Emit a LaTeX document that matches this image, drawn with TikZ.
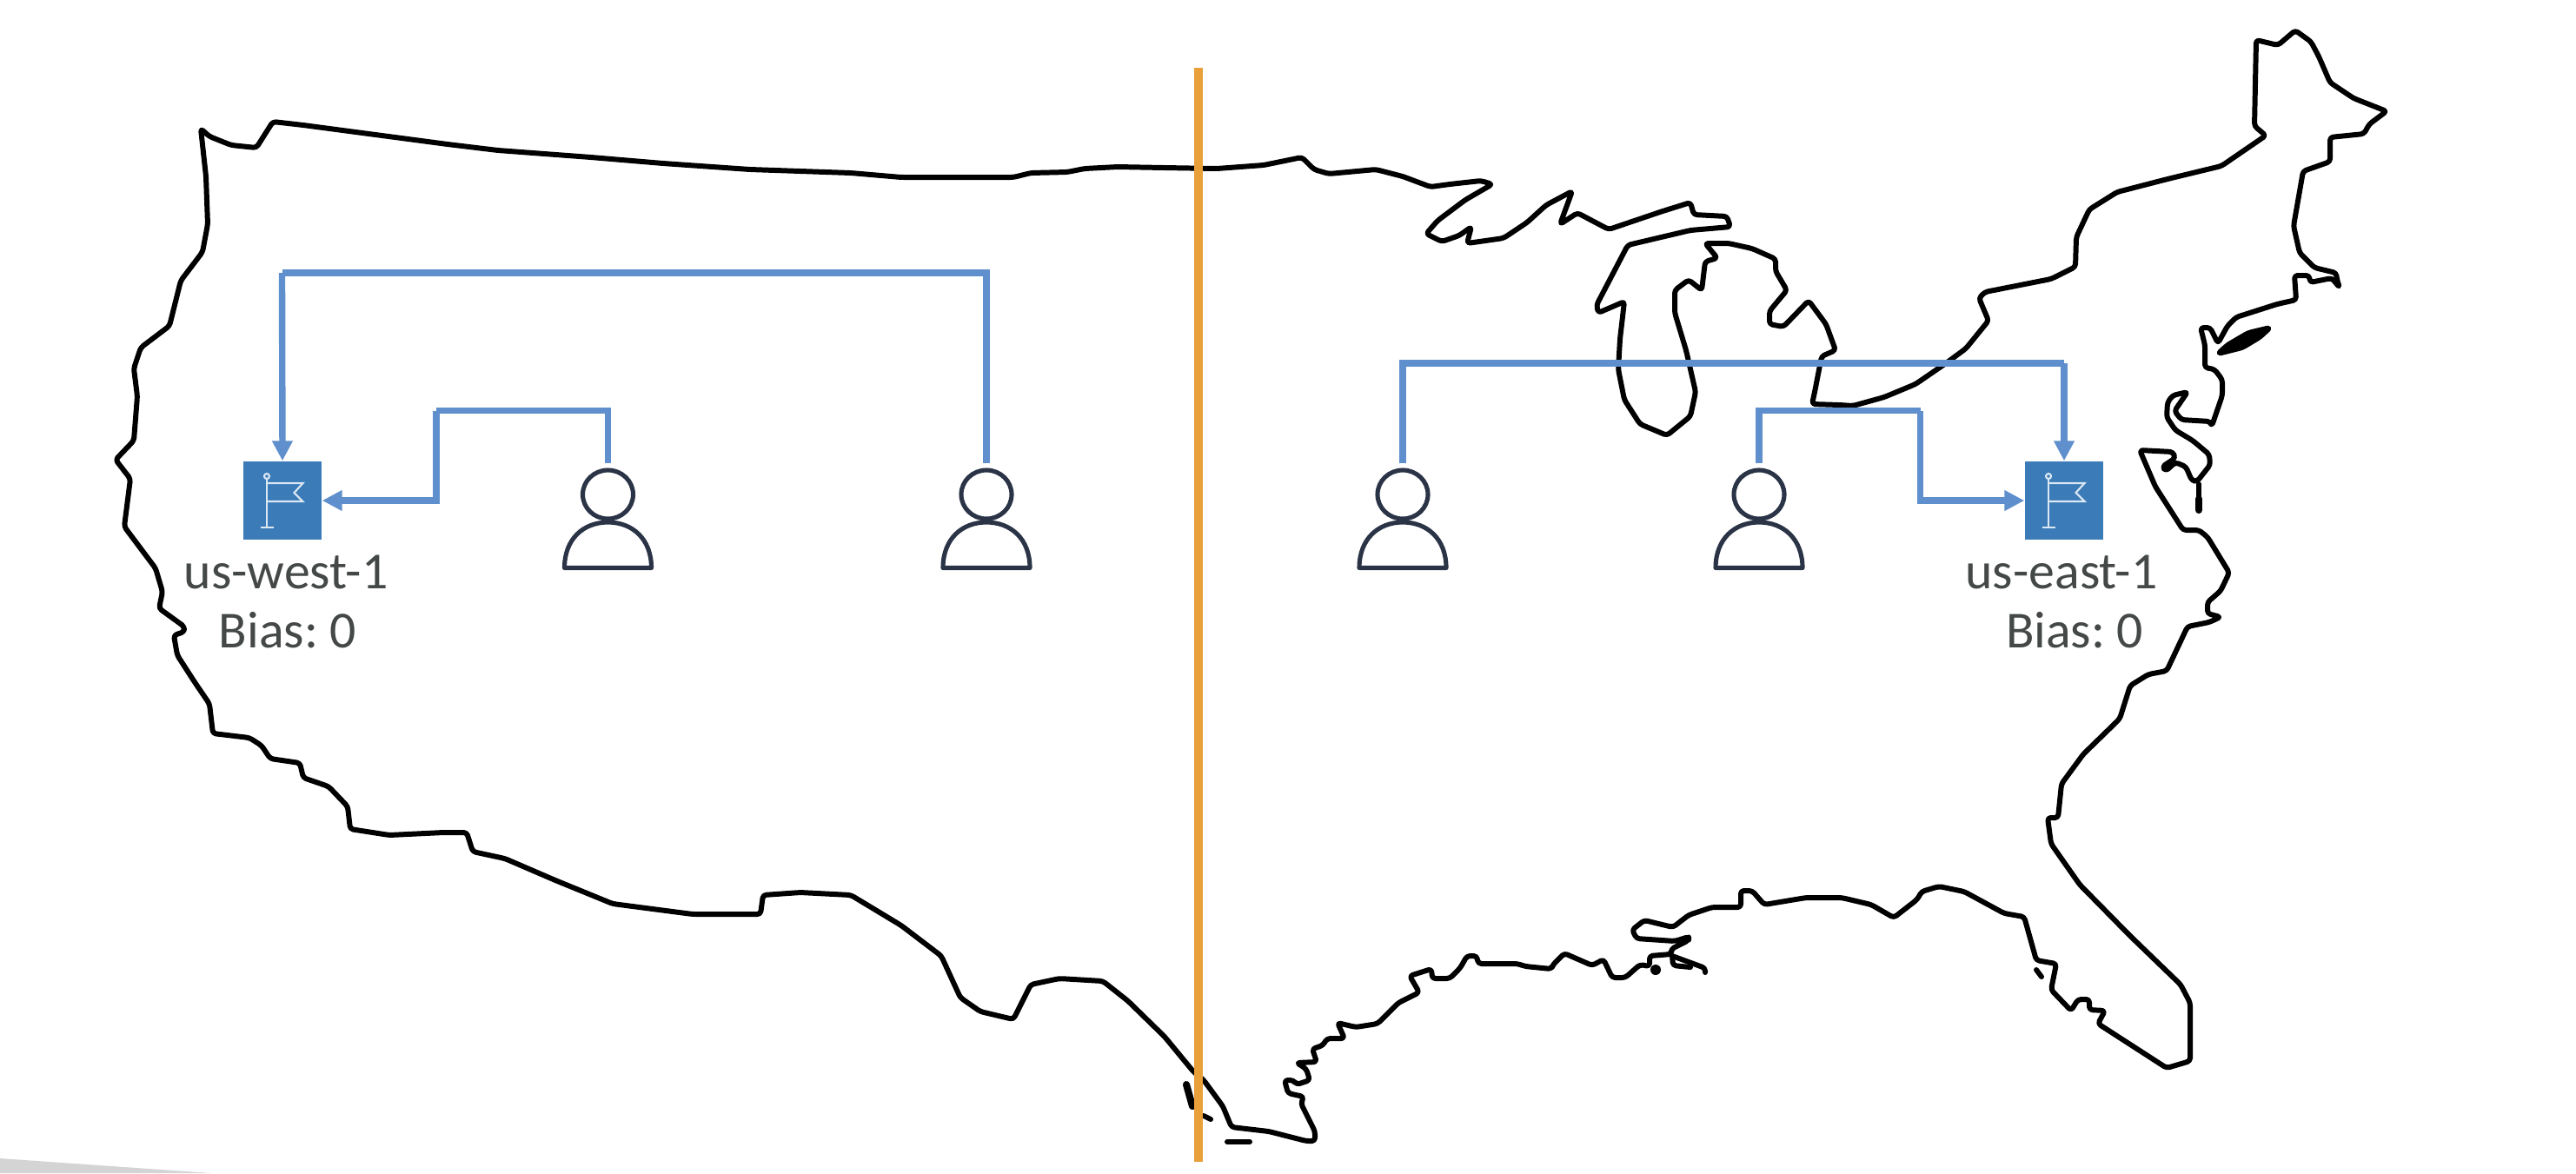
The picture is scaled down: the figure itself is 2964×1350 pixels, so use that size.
\documentclass[tikz,border=0pt]{standalone}
\usepackage{amsmath,amssymb,color,tikz}
\usepackage{fontspec}
\setmainfont{Carlito}
\usetikzlibrary{arrows.meta}

\definecolor{linkblue}{HTML}{5F8FCC}
\definecolor{flagblue}{HTML}{3A7BB8}
\definecolor{splitorange}{HTML}{E9A03B}
\definecolor{userdark}{HTML}{2A3446}
\definecolor{labelgrey}{HTML}{444948}
\definecolor{flagwhite}{HTML}{DCE8F3}

\tikzset{
  coast/.style={draw=black, line width=1.7pt, line join=round, line cap=round,
    rounded corners=1pt},
  link/.style={draw=linkblue, line width=2.1pt, -{Triangle[length=0.23cm,width=0.225cm]}},
  linkplain/.style={draw=linkblue, line width=2.1pt},
  split/.style={draw=splitorange, line width=2.9pt},
  userbox/.style={minimum width=1.05cm, minimum height=1.22cm, inner sep=0pt},
  flagbox/.style={fill=flagblue, minimum width=0.9cm, minimum height=0.9cm, inner sep=0pt},
  regionlabel/.style={anchor=base, text=labelgrey, inner sep=0pt,
    font=\fontsize{17}{20}\selectfont\frenchspacing},
  usericon/.pic={
    \draw [userdark, line width=1.45pt, line join=round, fill=white] (0,-26)
      ellipse [x radius=29, y radius=28];
    \draw [userdark, line width=1.45pt, line join=round] (-50,58.5)
      .. controls (-50,25) and (-28,6) .. (0,6)
      .. controls (28,6) and (50,25) .. (50,58.5) -- cycle;
  },
  flagicon/.pic={
    \draw [flagwhite, line width=0.6pt] (-18,-25) -- (-18,31);
    \draw [flagwhite, line width=0.6pt] (-25.5,31) -- (-10.5,31);
    \draw [flagwhite, line width=0.6pt] (-18,-28) circle [radius=3];
    \draw [flagwhite, line width=0.6pt] (-18,-20) -- (23.5,-20)
      -- (13.5,-9) -- (23.5,1) -- (-18,1);
  }
}

\begin{document}
\begin{tikzpicture}[x=0.01cm, y=-0.01cm]
  \useasboundingbox (0,0) rectangle (2964,1350);
  \fill [white] (0,0) rectangle (2964,1350);
  \fill [black!17] (0,1333) -- (243,1350) -- (0,1350) -- cycle;

  % mainland outline
  \draw [coast] (231,148) -- (241,157) -- (266,167) -- (295,170) -- (314,140)
    -- (349,144) -- (432,155) -- (515,166) -- (573,173) -- (680,181)
    -- (763,188) -- (863,195) -- (921,197) -- (979,199) -- (1037,204)
    -- (1166,204) -- (1186,199) -- (1228,198) -- (1248,194) -- (1286,192)
    -- (1340,193) -- (1400,194) -- (1454,190) -- (1498,181) -- (1512,195)
    -- (1529,200) -- (1583,195) -- (1614,203) -- (1646,215) -- (1668,212)
    -- (1704,208) -- (1717,212) -- (1686,230) -- (1654,254) -- (1641,269)
    -- (1659,278) -- (1679,271) -- (1693,261) -- (1688,280) -- (1730,274)
    -- (1757,256) -- (1779,236) -- (1809,220) -- (1795,258) -- (1815,245)
    -- (1851,264) -- (1913,243) -- (1945,233) -- (1949,247) -- (1987,249)
    -- (1991,261) -- (1945,265) -- (1873,282) -- (1837,351) -- (1839,360)
    -- (1869,347) -- (1864,390) -- (1862,425) -- (1869,460) -- (1887,488)
    -- (1918,501) -- (1945,479) -- (1951,451) -- (1940,403) -- (1927,360)
    -- (1927,334) -- (1943,322) -- (1958,334) -- (1962,301) -- (1976,297)
    -- (1962,280) -- (1989,280) -- (2016,286) -- (2043,298) -- (2043,312)
    -- (2056,334) -- (2036,358) -- (2036,373) -- (2052,376) -- (2081,346)
    -- (2101,373) -- (2112,403) -- (2096,410) -- (2088,451) -- (2085,465)
    -- (2117,466) -- (2132,467) -- (2168,457) -- (2204,442) -- (2239,418)
    -- (2262,401) -- (2288,369) -- (2277,343) -- (2284,336) -- (2360,321)
    -- (2388,307) -- (2389,273) -- (2404,241) -- (2436,221) -- (2494,206)
    -- (2556,191) -- (2607,156) -- (2594,145) -- (2596,46) -- (2621,52)
    -- (2641,35) -- (2659,48) -- (2668,65) -- (2681,95) -- (2708,113)
    -- (2746,128) -- (2726,143) -- (2720,154) -- (2681,158) -- (2681,186)
    -- (2650,197) -- (2639,260) -- (2646,291) -- (2663,308) -- (2688,314)
    -- (2689,322) -- (2692,331) -- (2683,320) -- (2658,325) -- (2657,317)
    -- (2640,317) -- (2642,345) -- (2620,350) -- (2573,365) -- (2563,375)
    -- (2552,395) -- (2543,377) -- (2532,377) -- (2537,397) -- (2537,423)
    -- (2548,425) -- (2557,437) -- (2557,455) -- (2545,490) -- (2543,485)
    -- (2510,483) -- (2502,473) -- (2517,451) -- (2500,455) -- (2494,463)
    -- (2493,480) -- (2503,495) -- (2523,507) -- (2542,523) -- (2543,535)
    -- (2528,554) -- (2522,553) -- (2515,537) -- (2503,532) -- (2492,542)
    -- (2488,537) -- (2503,527) -- (2500,520) -- (2462,518) -- (2480,560)
    -- (2512,610) -- (2530,610) -- (2540,618) -- (2565,659) -- (2555,680)
    -- (2540,693) -- (2540,706) -- (2555,710) -- (2542,716) -- (2517,721)
    -- (2493,772) -- (2472,776) -- (2451,789) -- (2439,827) -- (2397,868)
    -- (2372,902) -- (2368,941) -- (2356,941) -- (2360,971) -- (2393,1018)
    -- (2451,1077) -- (2509,1133) -- (2520,1154) -- (2520,1221) -- (2493,1229)
    -- (2414,1178) -- (2422,1163) -- (2404,1162) -- (2404,1150) -- (2391,1150)
    -- (2383,1163) -- (2360,1139) -- (2366,1109) -- (2343,1105) -- (2329,1055)
    -- (2306,1051) -- (2260,1026) -- (2231,1020) -- (2211,1026) -- (2206,1035)
    -- (2179,1056) -- (2153,1041) -- (2119,1033) -- (2078,1033) -- (2030,1041)
    -- (2016,1025) -- (2003,1025) -- (2003,1044) -- (1970,1044) -- (1943,1053)
    -- (1925,1067) -- (1892,1059) -- (1878,1070) -- (1883,1080) -- (1927,1083)
    -- (1943,1078) -- (1943,1082) -- (1923,1092) -- (1923,1098) -- (1898,1100)
    -- (1898,1112) -- (1887,1110) -- (1870,1125) -- (1855,1125) -- (1845,1104)
    -- (1832,1111) -- (1800,1097) -- (1787,1110) -- (1785,1115) -- (1755,1112)
    -- (1746,1109) -- (1701,1109) -- (1699,1100) -- (1688,1100) -- (1680,1114)
    -- (1668,1126) -- (1648,1126) -- (1647,1115) -- (1622,1123) -- (1633,1142)
    -- (1609,1154) -- (1585,1178) -- (1560,1182) -- (1539,1177) -- (1547,1195)
    -- (1527,1195) -- (1522,1203) -- (1510,1207) -- (1515,1222) -- (1492,1223)
    -- (1503,1230) -- (1507,1243) -- (1492,1248) -- (1488,1243) -- (1478,1243)
    -- (1482,1258) -- (1500,1262) -- (1497,1270) -- (1513,1302) -- (1513,1313)
    -- (1503,1313) -- (1460,1302) -- (1417,1297) -- (1407,1273) -- (1385,1243)
    -- (1373,1233) -- (1340,1193) -- (1298,1152) -- (1269,1129) -- (1219,1126)
    -- (1186,1133) -- (1166,1173) -- (1128,1164) -- (1105,1148) -- (1083,1100)
    -- (1037,1065) -- (979,1030) -- (921,1027) -- (878,1030) -- (875,1052)
    -- (797,1052) -- (705,1040) -- (639,1013) -- (581,988) -- (544,980)
    -- (537,958) -- (510,958) -- (448,961) -- (403,954) -- (400,928)
    -- (378,905) -- (349,895) -- (345,878) -- (311,873) -- (301,858)
    -- (287,849) -- (245,844) -- (241,810) -- (224,785) -- (204,754)
    -- (200,731) -- (212,727) -- (212,721) -- (183,700) -- (187,681)
    -- (179,654) -- (158,626) -- (143,606) -- (150,551) -- (133,529)
    -- (154,507) -- (158,456) -- (154,424) -- (162,400) -- (195,375)
    -- (208,323) -- (233,290) -- (239,258) -- (237,203) -- cycle;

  % islands and small marks
  \draw [coast, fill=black] (2552,407) -- (2563,397) -- (2587,383) -- (2612,377)
    -- (2600,388) -- (2580,400) -- cycle;
  \draw [coast] (2530,557) -- (2530,574);
  \draw [coast, line width=2.3pt] (2530,574) -- (2530,587);
  \draw [coast, line width=2.3pt] (1365,1248) -- (1372,1273);
  \draw [coast] (1385,1284) -- (1393,1288);
  \draw [coast] (1412,1314) -- (1438,1314);
  \draw [coast] (2343,1116) -- (2349,1124);
  \fill [black] (1905,1116) circle [radius=6];
  \draw [coast] (1924,1100) -- (1962,1114) -- (1962,1119);
  \draw [coast] (1924,1100) -- (1925,1111) -- (1945,1113);

  % the divide
  \coordinate (splittop) at (1379,78);
  \coordinate (splitbot) at (1379,1337);
  \draw [split] (splittop) -- (splitbot);

  % regions
  \node (flagw) [flagbox] at (325,576) {};
  \node (flage) [flagbox] at (2375,576) {};
  \pic at (flagw) {flagicon};
  \pic at (flage) {flagicon};
  \node (namew) [regionlabel] at (329,677) {us-west-1};
  \node (biasw) [regionlabel] at (331,745) {Bias: 0};
  \node (namee) [regionlabel] at (2372,677) {us-east-1};
  \node (biase) [regionlabel] at (2387,745) {Bias: 0};

  % users
  \node (usera) [userbox] at (699.5,595) {};
  \node (userb) [userbox] at (1135,595) {};
  \node (userc) [userbox] at (1614,595) {};
  \node (userd) [userbox] at (2024,595) {};
  \pic at (usera) {usericon};
  \pic at (userb) {usericon};
  \pic at (userc) {usericon};
  \pic at (userd) {usericon};

  % routes
  \coordinate (benda) at (502,472.5);
  \coordinate (bendb) at (324.5,314);
  \coordinate (bendc) at (2375,418);
  \coordinate (bendd) at (2209.5,472.5);
  \draw [linkplain] (usera.north) |- (benda);
  \draw [link] (benda) |- (flagw.east);
  \draw [linkplain] (userb.north) |- (bendb);
  \draw [link] (bendb) -- (flagw.north);
  \draw [linkplain] (userc.north) |- (bendc);
  \draw [link] (bendc) -- (flage.north);
  \draw [linkplain] (userd.north) |- (bendd);
  \draw [link] (bendd) |- (flage.west);
\end{tikzpicture}
\end{document}
